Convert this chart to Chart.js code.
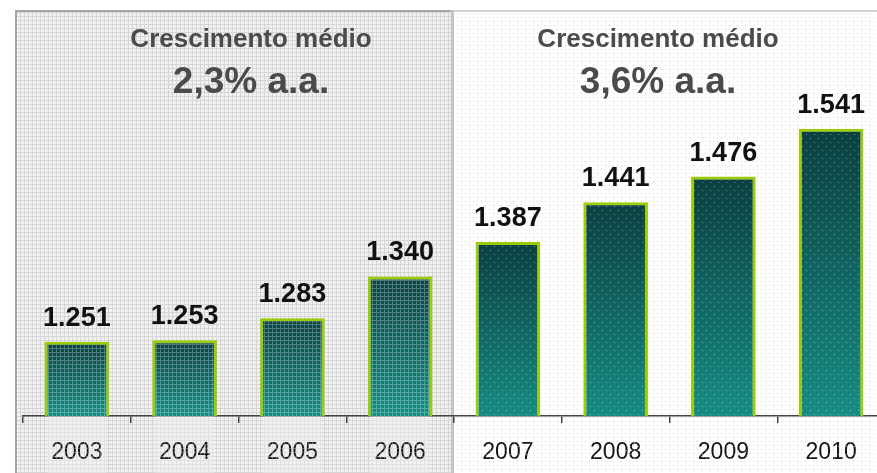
<!DOCTYPE html>
<html>
<head>
<meta charset="utf-8">
<script src="https://cdn.jsdelivr.net/npm/chart.js@4.4.1/dist/chart.umd.min.js"></script>
<style>
  html, body { margin: 0; padding: 0; background: #ffffff; overflow: hidden; }
  #wrap { position: absolute; left: 0; top: 0; width: 886px; height: 473px; }
</style>
</head>
<body>
<div id="wrap"><canvas id="c" width="886" height="473"></canvas></div>
<script>
// ---- data ----
const years = ['2003', '2004', '2005', '2006', '2007', '2008', '2009', '2010'];
const values = [1251, 1253, 1283, 1340, 1387, 1441, 1476, 1541];
const growthTitle = 'Crescimento médio';
const growthRates = ['2,3% a.a.', '3,6% a.a.'];
const periodSplit = 4; // first index of the second period

const FONT = '"Liberation Sans", Arial, sans-serif';

function fmt(v) {
  const s = String(Math.round(v));
  return s.replace(/\B(?=(\d{3})+(?!\d))/g, '.');
}

// ---- textures ----
function makePattern(size, draw) {
  const c = document.createElement('canvas');
  c.width = size; c.height = size;
  const x = c.getContext('2d');
  draw(x, size);
  return c;
}
const leftTile = makePattern(4, (x) => {
  x.fillStyle = '#f1f1f1'; x.fillRect(0, 0, 4, 4);
  x.fillStyle = '#d6d6d6'; x.fillRect(0, 0, 4, 1); x.fillRect(0, 0, 1, 4);
});
const rightTile = makePattern(8, (x) => {
  x.fillStyle = '#ffffff'; x.fillRect(0, 0, 8, 8);
  x.fillStyle = '#cfcfcf'; x.fillRect(1, 1, 1, 1); x.fillRect(5, 5, 1, 1);
  x.fillStyle = '#e6e6e6'; x.fillRect(5, 1, 1, 1); x.fillRect(1, 5, 1, 1);
});
const barLeftTile = makePattern(4, (x) => {
  x.clearRect(0, 0, 4, 4);
  x.fillStyle = 'rgba(255,255,255,0.28)'; x.fillRect(0, 0, 4, 1); x.fillRect(0, 1, 1, 3);
});
const barRightTile = makePattern(8, (x) => {
  x.clearRect(0, 0, 8, 8);
  x.fillStyle = 'rgba(255,255,255,0.45)'; x.fillRect(2, 2, 1, 1); x.fillRect(6, 6, 1, 1);
});

const panelPlugin = {
  id: 'panels',
  beforeDraw(chart) {
    const ctx = chart.ctx;
    const xs = chart.scales.x;
    const split = xs.getPixelForValue(periodSplit - 0.5);
    const H = chart.height, W = chart.width;
    ctx.save();
    ctx.fillStyle = '#ffffff';
    ctx.fillRect(0, 0, W, H);
    ctx.fillStyle = ctx.createPattern(leftTile, 'repeat');
    ctx.fillRect(16, 11, split - 16, H - 11);
    ctx.fillStyle = ctx.createPattern(rightTile, 'repeat');
    ctx.fillRect(split, 11, W - split, H - 11);
    ctx.fillStyle = '#d2d2d2';
    ctx.fillRect(split, 10, W - split, 2);
    ctx.fillStyle = '#a6a6a6';
    ctx.fillRect(15, 10, split - 15, 2);
    ctx.fillRect(15, 10, 2, H - 10);
    ctx.fillStyle = '#c4c4c4';
    ctx.fillRect(split - 3, 10, 3, H - 10);
    ctx.restore();
  },
  afterDatasetsDraw(chart) {
    const ctx = chart.ctx;
    const meta = chart.getDatasetMeta(0);
    ctx.save();
    meta.data.forEach((bar, i) => {
      const p = bar.getProps(['x', 'y', 'base', 'width'], true);
      ctx.fillStyle = ctx.createPattern(i < periodSplit ? barLeftTile : barRightTile, 'repeat');
      ctx.fillRect(p.x - p.width / 2 + 3, p.y + 3, p.width - 6, p.base - p.y - 3);
      ctx.fillStyle = '#111111';
      ctx.font = 'bold 27px ' + FONT;
      ctx.textAlign = 'center';
      ctx.textBaseline = 'alphabetic';
      ctx.fillText(fmt(values[i]), p.x, p.y - 16);
    });
    const centers = [251, 658];
    ctx.fillStyle = '#4b4b4b';
    ctx.textAlign = 'center';
    centers.forEach((cx, k) => {
      ctx.font = 'bold 26px ' + FONT;
      ctx.fillText(growthTitle, cx, 47);
      ctx.font = 'bold 37px ' + FONT;
      ctx.fillText(growthRates[k], cx, 93);
    });
    ctx.restore();
  }
};

const chart = new Chart(document.getElementById('c'), {
  type: 'bar',
  data: {
    labels: years,
    datasets: [{
      data: values,
      backgroundColor: (c) => {
        const ch = c.chart;
        if (!ch.chartArea) return '#137a74';
        const ys = ch.scales.y;
        const top = ys.getPixelForValue(c.raw);
        const bottom = ys.getPixelForValue(ys.min);
        const g = ch.ctx.createLinearGradient(0, top, 0, bottom);
        g.addColorStop(0, '#0b3f40');
        g.addColorStop(1, '#178c82');
        return g;
      },
      borderColor: '#9acd08',
      borderWidth: 3,
      borderSkipped: 'bottom',
      barPercentage: 0.6,
      categoryPercentage: 1.0
    }]
  },
  options: {
    responsive: false,
    devicePixelRatio: 1,
    animation: false,
    events: [],
    layout: { padding: { left: 23, right: 1, top: 12, bottom: 0 } },
    plugins: { legend: { display: false }, tooltip: { enabled: false }, title: { display: false } },
    scales: {
      y: { display: false, min: 1150, max: 1700 },
      x: {
        offset: true,
        afterFit: (s) => { s.height = 57; },
        border: { display: true, color: '#444444', width: 1.5 },
        grid: { offset: true, drawOnChartArea: false, drawTicks: true, tickLength: 7, color: '#444444', lineWidth: 1.5 },
        ticks: { color: '#151515', padding: 16, font: { family: FONT, size: 23 } }
      }
    }
  },
  plugins: [panelPlugin]
});
</script>
</body>
</html>
